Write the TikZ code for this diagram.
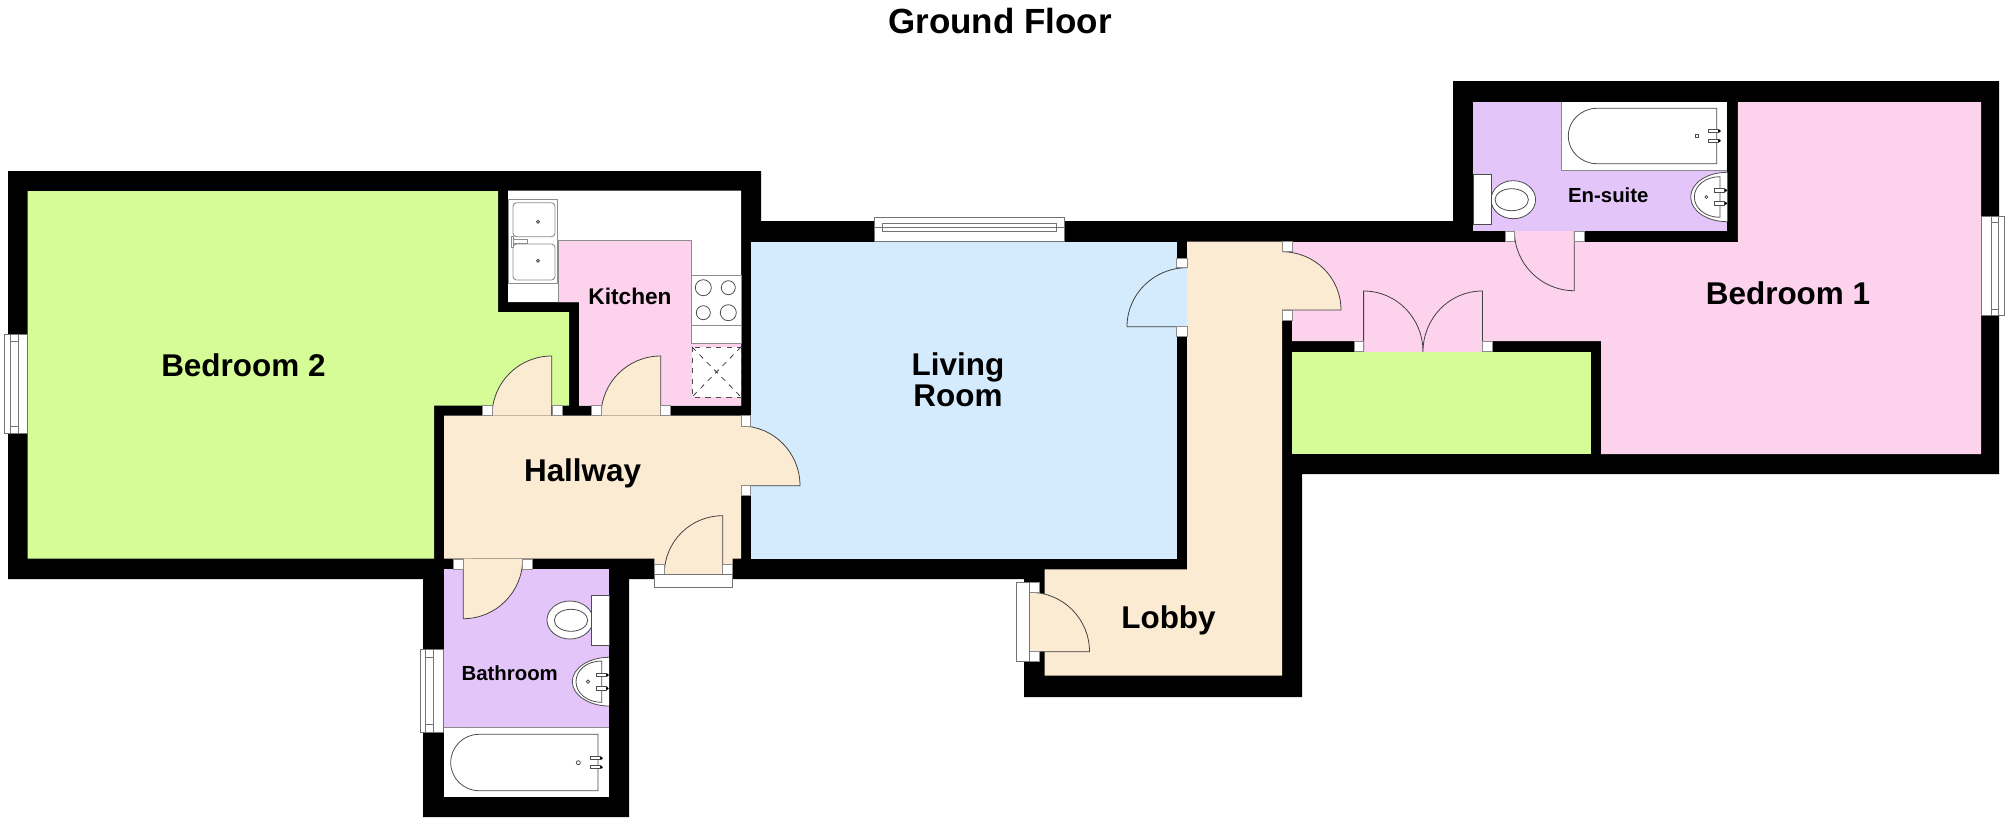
\documentclass[tikz,border=0pt]{standalone}
\usepackage{fontspec}
\setmainfont{Liberation Sans}
\definecolor{greenroom}{HTML}{D5FC97}
\definecolor{pinkroom}{HTML}{FCD2EC}
\definecolor{blueroom}{HTML}{D3EBFC}
\definecolor{hallroom}{HTML}{FCEBD3}
\definecolor{wetroom}{HTML}{E3C5FA}
\tikzstyle{title} = [font=\bfseries\fontsize{19.9}{22}\selectfont, anchor=base, inner sep=0]
\tikzstyle{bigroom} = [font=\bfseries\fontsize{17.9}{18.2}\selectfont, anchor=base, inner sep=0, align=center]
\tikzstyle{midroom} = [font=\bfseries\fontsize{12.9}{14}\selectfont, anchor=base, inner sep=0]
\tikzstyle{smallroom} = [font=\bfseries\fontsize{11.6}{13}\selectfont, anchor=base, inner sep=0]
\tikzstyle{door} = [draw=black!75, line width=0.45pt]
\tikzstyle{jamb} = [draw=black!45, fill=white, line width=0.4pt]
\tikzstyle{pane} = [draw=black!55, fill=white, line width=0.4pt]
\tikzstyle{fixture} = [draw=black!70, fill=white, line width=0.45pt]
\tikzstyle{unit} = [draw=black!45, fill=white, line width=0.5pt]
\tikzstyle{worktop} = [draw=black!45, line width=0.5pt]
\tikzstyle{tapend} = [fill=black]

\begin{document}
\begin{tikzpicture}[x=0.02cm, y=-0.02cm]
  \useasboundingbox (0,0) rectangle (2008,825);
  \node (floor) [title] at (1000,33.5) {Ground Floor};

  % walls
  \fill [black] (8,171) -- (761,171) -- (761,221) -- (1453,221) -- (1453,81) -- (1999,81)
    -- (1999,474) -- (1302,474) -- (1302,697) -- (1024,697) -- (1024,579) -- (629,579)
    -- (629,817) -- (423,817) -- (423,579) -- (8,579) -- cycle;

  % rooms
  \fill [greenroom] (27.5,191) -- (498,191) -- (498,312) -- (569,312) -- (569,405.7)
    -- (434,405.7) -- (434,558.7) -- (27.5,558.7) -- cycle;
  \fill [white] (508,190.5) -- (741,190.5) -- (741,405.7) -- (579,405.7) -- (579,302) -- (508,302) -- cycle;
  \fill [pinkroom] (558,240) -- (691,240) -- (691,343) -- (741,343) -- (741,405.7) -- (579,405.7)
    -- (579,302) -- (558,302) -- cycle;
  \fill [blueroom] (751,241.7) -- (1176.7,241.7) -- (1176.7,558.7) -- (751,558.7) -- cycle;
  \fill [hallroom] (444,415.7) -- (741,415.7) -- (741,558.7) -- (732.7,558.7) -- (732.7,564.3)
    -- (654.3,564.3) -- (654.3,558.7) -- (444,558.7) -- cycle;
  \fill [hallroom] (664.3,564) rectangle (722.7,574);
  \fill [wetroom] (444,569) rectangle (609,727.7);
  \fill [white] (444,727.7) rectangle (609,796.7);
  \fill [hallroom] (1187,241.7) -- (1282,241.7) -- (1282,675.7) -- (1044.7,675.7) -- (1044.7,569.3)
    -- (1187,569.3) -- cycle;
  \fill [pinkroom] (1292,242) -- (1737.8,242) -- (1737.8,102) -- (1981,102) -- (1981,454)
    -- (1601,454) -- (1601,341) -- (1292,341) -- cycle;
  \fill [greenroom] (1292,352) rectangle (1591,454);
  \fill [wetroom] (1473.3,101.7) rectangle (1727.3,230.7);
  \fill [white] (1561.3,101.7) rectangle (1727.3,170.7);
  \fill [pinkroom] (1363.6,341) rectangle (1482.4,352);

  % doors
  \draw [door, fill=hallroom] (551.7,415.7) -- (551.7,356) to[out=180, in=90] (492,415.7);
  \draw [door, fill=hallroom] (660.7,415.7) -- (660.7,356) to[out=180, in=90] (601,415.7);
  \draw [door, fill=hallroom] (741,485.7) -- (800,485.7) to[out=90, in=0] (741,426);
  \draw [door, fill=hallroom] (722.7,574) -- (722.7,515.7) to[out=180, in=90] (664.3,574);
  \draw [door, fill=hallroom] (463.3,558.7) -- (463.3,618.7) to[out=0, in=-90] (522.7,559);
  \draw [door, fill=blueroom] (1187,326.7) -- (1127,326.7) to[out=90, in=180] (1187,267.7);
  \draw [door, fill=hallroom] (1282,310) -- (1341,310) to[out=90, in=0] (1282,251.7);
  \draw [door, fill=hallroom] (1030,651.7) -- (1089.5,651.7) to[out=90, in=0] (1030,592.3);
  \draw [door, fill=pinkroom] (1574.3,231) -- (1574.3,290.7) to[out=180, in=-90] (1514.4,231);
  \draw [door, fill=pinkroom] (1363.6,351.7) -- (1363.6,291) to[out=0, in=90] (1423,351.7);
  \draw [door, fill=pinkroom] (1482.4,351.7) -- (1482.4,291) to[out=180, in=90] (1423,351.7);

  % door jambs
  \draw [jamb] (482,405.7) rectangle (492,415.7);
  \draw [jamb] (552,405.7) rectangle (562,415.7);
  \draw [jamb] (591,405.7) rectangle (601,415.7);
  \draw [jamb] (660.7,405.7) rectangle (670.7,415.7);
  \draw [jamb] (741,415.7) rectangle (750.5,426);
  \draw [jamb] (741,485.7) rectangle (750.5,495);
  \draw [jamb] (453,559) rectangle (463.3,569);
  \draw [jamb] (522.7,559) rectangle (532.7,569);
  \draw [jamb] (654.3,564.3) rectangle (664.3,574);
  \draw [jamb] (722.7,564.3) rectangle (732.7,574);
  \draw [jamb] (1176.7,258) rectangle (1187,267.7);
  \draw [jamb] (1176.7,326.7) rectangle (1187,336.7);
  \draw [jamb] (1282,241.7) rectangle (1292,251.7);
  \draw [jamb] (1282,310) rectangle (1292,320);
  \draw [jamb] (1029.8,582.3) rectangle (1039.7,592.3);
  \draw [jamb] (1029.8,651.7) rectangle (1039.7,661.5);
  \draw [jamb] (1505,231) rectangle (1514.4,241.7);
  \draw [jamb] (1574.3,231) rectangle (1584,241.7);
  \draw [jamb] (1354.3,341) rectangle (1363.6,351.7);
  \draw [jamb] (1482.4,341) rectangle (1492,351.7);

  % windows and sills
  \draw [pane] (4,334.3) rectangle (27.5,433.3);
  \draw [pane] (10.2,341.7) rectangle (17.9,426);
  \draw [pane] (10.2,334.3) -- (10.2,433.3) (17.9,334.3) -- (17.9,433.3);
  \draw [pane] (420,649.3) rectangle (443.3,732.3);
  \draw [pane] (425.3,657.7) rectangle (433.3,724.3);
  \draw [pane] (425.3,649.3) -- (425.3,732.3) (433.3,649.3) -- (433.3,732.3);
  \draw [pane] (874.4,217.3) rectangle (1064.6,241);
  \draw [pane] (882,223.3) rectangle (1056,231.7);
  \draw [pane] (874.4,227.3) -- (1064.6,227.3);
  \draw [pane] (1981.5,216.7) rectangle (2004,315.7);
  \draw [pane] (1991.7,222.7) rectangle (1998.7,309.3);
  \draw [pane] (1991.7,216.7) -- (1991.7,315.7) (1998.7,216.7) -- (1998.7,315.7);
  \draw [pane] (654.3,574) rectangle (732.7,587.3);
  \draw [pane] (1016.7,582.3) rectangle (1029.8,661.7);

  % kitchen units
  \draw [worktop] (558,302) -- (558,240) -- (691,240) -- (691,343);
  \draw [unit] (508,199) rectangle (557.7,283);
  \draw [unit, rounded corners=2] (513,202.7) rectangle (555,236.7);
  \draw [unit, rounded corners=2] (513,244) rectangle (555,280);
  \draw [fixture] (538,221.7) circle [radius=1.5];
  \draw [fixture] (538,260.7) circle [radius=1.5];
  \draw [unit] (512,239.5) rectangle (527,243);
  \draw [unit] (511,236) rectangle (513,247);
  \draw [unit] (691,275.7) rectangle (741,343);
  \draw [unit] (691,325) -- (741,325);
  \draw [fixture] (703.3,287.7) circle [radius=8];
  \draw [fixture] (728.3,287.7) circle [radius=7];
  \draw [fixture] (703.3,312.7) circle [radius=7];
  \draw [fixture] (728.3,312.7) circle [radius=8];
  \draw [fixture, dashed] (692,347) rectangle (741,397);
  \draw [door, dashed] (692,347) -- (741,397) (741,347) -- (692,397);

  % bathroom
  \draw [fixture] (570,620) ellipse [x radius=23, y radius=19];
  \draw [fixture] (571,620.3) ellipse [x radius=16.7, y radius=11];
  \draw [fixture] (591.7,595.7) rectangle (609,645.3);
  \draw [fixture] (609,657.3) .. controls (589,657.3) and (572.3,668) .. (572.3,681.7)
    .. controls (572.3,695) and (589,706) .. (609,706);
  \draw [fixture] (601.7,661) .. controls (587,661) and (576,670) .. (576,681.7)
    .. controls (576,693) and (587,702.3) .. (601.7,702.3) -- cycle;
  \draw [fixture] (588,681.7) circle [radius=1.7];
  \draw [fixture] (596.7,673.3) rectangle (606.7,676.7);
  \draw [fixture] (596.7,686.7) rectangle (606.7,690);
  \fill [tapend] (607.3,675) circle [radius=1.5];
  \fill [tapend] (607.3,688.3) circle [radius=1.5];
  \draw [worktop] (444,727.7) -- (609,727.7);
  \draw [fixture] (598,734.3) -- (479,734.3) to[out=180, in=90] (450.7,762.5)
    to[out=-90, in=180] (479,790.7) -- (598,790.7) -- cycle;
  \draw [fixture] (578.3,762.7) circle [radius=2];
  \draw [fixture] (590.3,756.7) rectangle (600,759.7);
  \draw [fixture] (590.3,765.7) rectangle (600,768.7);
  \fill [tapend] (601.3,758.2) circle [radius=1.5];
  \fill [tapend] (601.3,767.2) circle [radius=1.5];

  % en-suite
  \draw [worktop] (1561.3,101.7) -- (1561.3,170.7) -- (1727.3,170.7);
  \draw [fixture] (1716.7,108.3) -- (1597,108.3) to[out=180, in=90] (1568.3,136)
    to[out=-90, in=180] (1597,163.7) -- (1716.7,163.7) -- cycle;
  \draw [fixture] (1695.2,134.2) rectangle (1698.2,137.2);
  \draw [fixture] (1708.3,129.3) rectangle (1718.3,132.7);
  \draw [fixture] (1708.3,139) rectangle (1718.3,142.3);
  \fill [tapend] (1719.3,131) circle [radius=1.5];
  \fill [tapend] (1719.3,140.7) circle [radius=1.5];
  \draw [fixture] (1727.3,172.3) .. controls (1707,172.3) and (1690.7,183) .. (1690.7,197)
    .. controls (1690.7,211) and (1707,221.7) .. (1727.3,221.7);
  \draw [fixture] (1720,176.7) .. controls (1705,176.7) and (1694.3,186) .. (1694.3,197)
    .. controls (1694.3,208) and (1705,217.3) .. (1720,217.3) -- cycle;
  \draw [fixture] (1706.3,197) circle [radius=1.5];
  \draw [fixture] (1714.3,188.7) rectangle (1724.3,192);
  \draw [fixture] (1714.3,201.7) rectangle (1724.3,205);
  \fill [tapend] (1725.7,190.3) circle [radius=1.5];
  \fill [tapend] (1725.7,203.3) circle [radius=1.5];
  \draw [fixture] (1513.3,199.7) ellipse [x radius=22.3, y radius=19];
  \draw [fixture] (1511.7,199.7) ellipse [x radius=16.7, y radius=11];
  \draw [fixture] (1473.3,174.7) rectangle (1491.7,224.7);

  % labels
  \node (bed2) [bigroom] at (243.4,376.7) {Bedroom 2};
  \node (hall) [bigroom] at (582.6,481) {Hallway};
  \node (kitchen) [midroom] at (630,304.3) {Kitchen};
  \node (living) [bigroom] at (958,375) {Living};
  \node (room) [bigroom] at (958,406.7) {Room};
  \node (lobby) [bigroom] at (1168.5,628) {Lobby};
  \node (bed1) [bigroom] at (1788,304.3) {Bedroom 1};
  \node (bath) [smallroom] at (509.7,680) {Bathroom};
  \node (ensuite) [smallroom] at (1608.3,202.7) {En-suite};
\end{tikzpicture}
\end{document}
